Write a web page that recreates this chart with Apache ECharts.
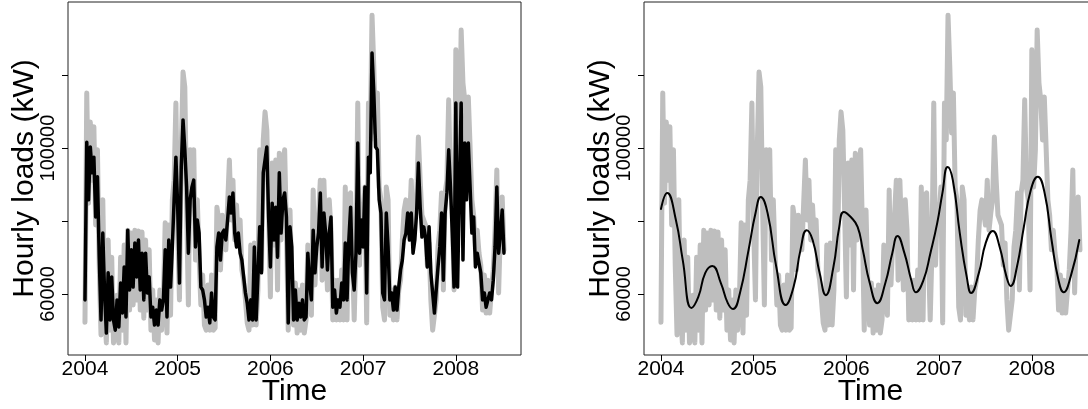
<!DOCTYPE html>
<html>
<head>
<meta charset="utf-8">
<script src="https://cdn.jsdelivr.net/npm/echarts@6/dist/echarts.min.js"></script>
<style>html,body{margin:0;padding:0;background:#fff}#c{width:1088px;height:409px}</style>
</head>
<body>
<div id="c"></div>
<script>
// weekly samples starting 2004.0
var startYear = 2004;
var weeksPerYear = 52;
var xTicks = [2004, 2005, 2006, 2007, 2008];
var yTicks = [60000, 80000, 100000, 120000];
var yLabels = [60000, 100000];

// observed loads (grey)
var observed = [
52300,115100,84900,107100,91200,105800,78900,99500,67900,48800,
85800,55600,46600,74800,50100,70100,46600,48800,59700,46600,
70100,50100,73400,46600,77500,55600,76700,57000,77500,58400,
77300,55600,77000,53400,74800,55600,72100,50100,61100,47400,
58400,46600,61100,50100,58400,79500,49300,78900,54200,85800,
91200,112300,77500,58400,99500,120800,116700,84400,57000,99500,
84400,99500,69300,85800,70100,57000,65200,51500,50100,62500,
50100,65200,50100,50700,83800,80300,66600,81600,81600,72100,
84400,96700,80300,91200,74800,84400,74800,80300,66600,63800,
58400,52100,50100,73400,51500,74000,51500,61100,99500,66600,
102200,109900,104900,83000,59200,95900,73400,96700,61100,98600,
74800,95300,99500,77500,50100,83000,63000,51500,63000,49300,
61100,50100,62500,49300,52900,73400,58400,54200,88500,62500,
74800,81600,91200,63800,91200,74800,61100,85800,77500,52900,
63800,52900,63800,52900,66600,52900,89300,52900,87100,87700,
71200,52900,72100,112300,67900,84400,81600,89300,52100,112300,
102200,136400,122200,104100,115100,89300,85800,56400,52900,89300,
85800,54200,61100,52900,61900,52900,61100,63800,74800,83000,
85800,85800,78900,91200,77500,82200,85800,103000,91200,81600,
81600,78900,67900,74000,58400,50100,50100,58400,72900,77500,
87700,61100,87700,91200,113200,89300,85800,61100,126900,89300,
99500,132300,117800,113200,102200,114000,100300,85800,81600,72100,
77500,71200,67900,55600,65200,54800,63800,54800,61100,66600,
77500,94000,60300,77500,86600,72100
];

// fitted loads (black, left panel)
var fitted = [
58400,101600,85800,100300,93200,97500,81100,92100,70100,52900,
76700,60300,49300,65800,52900,64700,52900,50100,58400,51000,
63000,54800,67400,53700,77500,61100,72100,61900,74000,64700,
74800,61100,71200,58400,71200,60300,64700,53700,56400,51500,
55600,51500,58400,55600,58400,72100,53700,74800,61900,72900,
85800,97500,83800,63000,94800,107700,99500,89300,71200,85800,
89300,91200,72900,80300,76700,61900,61100,58400,53700,56400,
52100,60300,53700,52900,72900,76700,69300,76700,77500,74800,
80300,86600,82200,87700,76700,72900,76700,71200,69300,64700,
60300,57500,52900,58400,52900,72900,52900,64700,78400,65800,
93200,96700,100300,81100,67400,84900,74800,83800,70100,93200,
76700,85800,87700,81100,52100,78400,72900,52900,61100,52900,
57500,53700,58400,52900,53700,71200,63000,58400,77500,65800,
72900,76700,87700,67400,82200,76700,66600,76700,81100,56400,
61100,54800,58400,56400,63000,58400,74000,58400,74800,83800,
65800,61100,71200,101400,71200,80300,72900,89300,60300,97500,
93200,126000,115100,100300,99500,85800,82200,60300,58400,82200,
72900,58400,60300,55600,61900,55600,61900,66600,69300,74800,
76700,82200,74800,82200,71200,74800,82200,95900,83800,75600,
78400,75600,67400,78400,65800,60300,54800,61100,67400,72900,
82200,63800,82200,87700,99500,89300,76700,61900,112300,61900,
89300,112300,69300,101400,85800,101400,89300,76700,81100,67400,
71200,68500,65800,58400,60300,56400,58400,60300,58400,63800,
72900,89300,71200,76700,83000,71200
];

// smooth seasonal curve (black, right panel)
var smoothT = [2004.000,2004.067,2004.161,2004.235,2004.329,2004.403,2004.478,2004.553,2004.646,2004.721,
2004.777,2004.852,2004.945,2005.020,2005.076,2005.150,2005.244,2005.345,2005.430,2005.505,
2005.572,2005.636,2005.711,2005.778,2005.860,2005.923,2005.972,2006.047,2006.121,2006.177,
2006.252,2006.334,2006.420,2006.495,2006.551,2006.626,2006.700,2006.749,2006.831,2006.906,
2006.980,2007.036,2007.092,2007.148,2007.223,2007.298,2007.346,2007.429,2007.503,2007.578,
2007.653,2007.727,2007.772,2007.839,2007.914,2007.989,2008.064,2008.138,2008.213,2008.288,
2008.344,2008.418,2008.512];
var smoothV = [83300,87700,80300,69300,56200,59200,65800,67700,63000,57500,
55900,60300,72100,82200,86600,82200,67400,57000,61900,72100,
77500,74800,65800,59700,67400,78400,82500,81100,78400,72100,
63000,57500,63000,71200,75900,71200,63800,60500,63800,71200,
79500,87700,94800,91200,76700,64700,60300,65800,74000,77300,
72900,64700,62200,67400,78400,88500,92100,87700,74800,63800,
60500,64700,74800];

function pairs(vals) {
  var out = [];
  for (var i = 0; i < vals.length; i++) out.push([startYear + i / weeksPerYear, vals[i]]);
  return out;
}
var smoothData = smoothT.map(function (t, i) { return [t, smoothV[i]]; });

var FONT = 'Liberation Sans';
var xMin = 2003.817, xMax = 2008.703, yMin = 43300, yMax = 140000;

function xAx(idx) {
  return {
    gridIndex: idx, type: 'value', min: xMin, max: xMax,
    axisLine: {show: false},
    splitLine: {show: false},
    axisTick: {show: true, length: 6, inside: false, customValues: xTicks, lineStyle: {color: '#000', width: 1}},
    axisLabel: {customValues: xTicks, color: '#000', fontSize: 21, fontFamily: FONT, margin: 4,
      formatter: function (v) { return String(Math.round(v)); }},
    name: 'Time', nameLocation: 'middle', nameGap: 22, nameMoveOverlap: false,
    nameTextStyle: {color: '#000', fontSize: 30, fontFamily: FONT, verticalAlign: 'top'}
  };
}
function yAx(idx) {
  return {
    gridIndex: idx, type: 'value', min: yMin, max: yMax,
    axisLine: {show: false},
    splitLine: {show: false},
    axisTick: {show: true, length: 6, inside: false, customValues: yTicks, lineStyle: {color: '#000', width: 1}},
    axisLabel: {customValues: yLabels, rotate: 90, color: '#000', fontSize: 20, fontFamily: FONT, margin: 10,
      formatter: function (v) { return String(Math.round(v)); }},
    name: 'Hourly loads (kW)', nameLocation: 'middle', nameRotate: 90, nameGap: 28, nameMoveOverlap: false,
    nameTextStyle: {color: '#000', fontSize: 30, fontFamily: FONT}
  };
}
function line(idx, data, color, width, smooth) {
  return {
    type: 'line', xAxisIndex: idx, yAxisIndex: idx, data: data, showSymbol: false,
    smooth: smooth || false, animation: false, silent: true,
    lineStyle: {color: color, width: width, join: 'round', cap: 'round'}
  };
}

var chart = echarts.init(document.getElementById('c'), null, {renderer: 'canvas'});
chart.setOption({
  animation: false,
  backgroundColor: '#fff',
  grid: [
    {left: 68, top: 2, width: 453, height: 353, show: true, borderColor: '#222', borderWidth: 1, containLabel: false, outerBoundsMode: 'none'},
    {left: 644, top: 2, width: 453, height: 353, show: true, borderColor: '#222', borderWidth: 1, containLabel: false, outerBoundsMode: 'none'}
  ],
  xAxis: [xAx(0), xAx(1)],
  yAxis: [yAx(0), yAx(1)],
  series: [
    line(0, pairs(observed), '#BEBEBE', 5),
    line(0, pairs(fitted), '#000', 3.5),
    line(1, pairs(observed), '#BEBEBE', 5),
    line(1, smoothData, '#000', 2, 0.5)
  ]
});
</script>
</body>
</html>
